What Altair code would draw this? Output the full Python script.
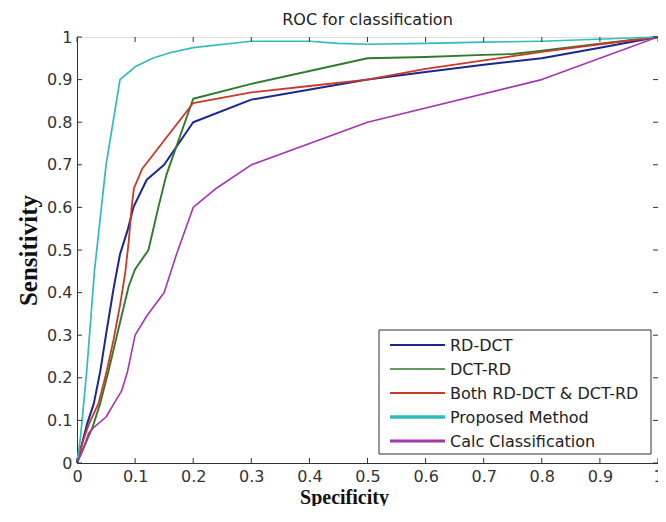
import altair as alt
import pandas as pd

series = ["RD-DCT", "DCT-RD", "Both RD-DCT & DCT-RD", "Proposed Method", "Calc Classification"]
colors = ["#1c2590", "#2f7a2f", "#c83a28", "#2fbcbc", "#a435b0"]
widths = [2.0, 1.6, 2.0, 3.5, 3.2]

rd_dct_x = [0, 0.017, 0.029, 0.04, 0.051, 0.063, 0.074, 0.087, 0.097, 0.12, 0.15, 0.2, 0.3, 0.5, 0.6, 0.7, 0.8, 0.9, 1.0]
rd_dct_y = [0, 0.09, 0.14, 0.215, 0.31, 0.41, 0.49, 0.546, 0.6, 0.665, 0.70, 0.80, 0.853, 0.90, 0.918, 0.935, 0.95, 0.975, 1.0]

dct_rd_x = [0, 0.027, 0.04, 0.054, 0.074, 0.089, 0.1, 0.123, 0.14, 0.154, 0.2, 0.3, 0.5, 0.6, 0.7, 0.75, 0.8, 0.9, 1.0]
dct_rd_y = [0, 0.085, 0.14, 0.215, 0.33, 0.415, 0.455, 0.5, 0.6, 0.677, 0.855, 0.89, 0.95, 0.953, 0.958, 0.96, 0.968, 0.984, 1.0]

both_x = [0, 0.01, 0.02, 0.037, 0.051, 0.063, 0.074, 0.083, 0.089, 0.094, 0.098, 0.112, 0.2, 0.3, 0.4, 0.5, 0.6, 0.7, 0.8, 0.9, 1.0]
both_y = [0, 0.05, 0.09, 0.14, 0.215, 0.29, 0.37, 0.446, 0.52, 0.6, 0.645, 0.69, 0.845, 0.87, 0.885, 0.90, 0.925, 0.945, 0.965, 0.983, 1.0]

proposed_x = [0, 0.006, 0.017, 0.03, 0.042, 0.05, 0.074, 0.1, 0.13, 0.16, 0.2, 0.3, 0.4, 0.45, 0.5, 0.6, 0.7, 0.8, 1.0]
proposed_y = [0, 0.06, 0.22, 0.45, 0.6, 0.7, 0.9, 0.93, 0.95, 0.963, 0.975, 0.99, 0.99, 0.985, 0.983, 0.985, 0.988, 0.99, 1.0]

calc_x = [0, 0.01, 0.02, 0.03, 0.05, 0.063, 0.077, 0.087, 0.1, 0.12, 0.15, 0.17, 0.2, 0.24, 0.3, 0.5, 0.8, 1.0]
calc_y = [0, 0.03, 0.07, 0.085, 0.108, 0.138, 0.17, 0.215, 0.3, 0.345, 0.4, 0.485, 0.6, 0.645, 0.7, 0.8, 0.9, 1.0]

x_ticks = [0, 0.1, 0.2, 0.3, 0.4, 0.5, 0.6, 0.7, 0.8, 0.9, 1.0]
y_ticks = [0, 0.1, 0.2, 0.3, 0.4, 0.5, 0.6, 0.7, 0.8, 0.9, 1.0]

xs = [rd_dct_x, dct_rd_x, both_x, proposed_x, calc_x]
ys = [rd_dct_y, dct_rd_y, both_y, proposed_y, calc_y]
rows = []
for name, xv, yv in zip(series, xs, ys):
    for i, (a, b) in enumerate(zip(xv, yv)):
        rows.append({"series": name, "spec": a, "sens": b, "i": i})
df = pd.DataFrame(rows)

W, H = 581, 426

xscale = alt.Scale(domain=[0, 1], nice=False, zero=False)
yscale = alt.Scale(domain=[0, 1], nice=False, zero=False)
cscale = alt.Scale(domain=series, range=colors)

xaxis = alt.Axis(
    title="Specificity", values=x_ticks, format=".1~f", grid=False, ticks=False,
    labelFont="DejaVu Sans", labelFontSize=16, labelColor="#333", labelPadding=5,
    domainColor="#333", labelFlush=False,
    titleFont="Liberation Serif", titleFontSize=20, titleFontWeight="bold", titleColor="#111",
    titleX=267, titleY=40, titleBaseline="alphabetic", titleAlign="center",
)
yaxis = alt.Axis(
    title="Sensitivity", values=y_ticks, format=".1~f", grid=False, ticks=False,
    labelFont="DejaVu Sans", labelFontSize=16, labelColor="#333", labelPadding=5,
    domainColor="#333", labelFlush=False,
    titleFont="Liberation Serif", titleFontSize=25, titleFontWeight="bold", titleColor="#111",
    titleX=-41, titleY=H / 2, titleAngle=270, titleBaseline="alphabetic", titleAlign="center",
)

lines = alt.Chart(df).mark_line(strokeJoin="round").encode(
    x=alt.X("spec:Q", scale=xscale, axis=xaxis),
    y=alt.Y("sens:Q", scale=yscale, axis=yaxis),
    color=alt.Color("series:N", scale=cscale, sort=series, legend=None),
    strokeWidth=alt.StrokeWidth("series:N", scale=alt.Scale(domain=series, range=widths), legend=None),
    order="i:Q",
    detail="series:N",
)

xt = pd.DataFrame({"t": x_ticks})
yt = pd.DataFrame({"t": y_ticks})

bottom_ticks = alt.Chart(xt).mark_rule(color="#333", strokeWidth=1).encode(
    x=alt.X("t:Q", scale=xscale, axis=xaxis), y=alt.value(H), y2=alt.value(H - 5))
top_ticks = alt.Chart(xt).mark_rule(color="#333", strokeWidth=1).encode(
    x=alt.X("t:Q", scale=xscale, axis=xaxis), y=alt.value(0), y2=alt.value(5))
left_ticks = alt.Chart(yt).mark_rule(color="#333", strokeWidth=1).encode(
    y=alt.Y("t:Q", scale=yscale, axis=yaxis), x=alt.value(0), x2=alt.value(5))
right_ticks = alt.Chart(yt).mark_rule(color="#333", strokeWidth=1).encode(
    y=alt.Y("t:Q", scale=yscale, axis=yaxis), x=alt.value(W), x2=alt.value(W - 5))

# legend (drawn as a framed box with line samples and labels)
LX0, LX1, LY0, LY1 = 302, 574, 293, 417
one = pd.DataFrame({"k": [0]})
legend_box = alt.Chart(one).mark_rect(fill="white", stroke="#333", strokeWidth=1).encode(
    x=alt.value(LX0), x2=alt.value(LX1), y=alt.value(LY0), y2=alt.value(LY1))

legend_layers = []
for idx, name in enumerate(series):
    ent = pd.DataFrame({"series": [name]})
    yy = 308 + 24 * idx
    legend_layers.append(
        alt.Chart(ent).mark_rule(strokeWidth=widths[idx]).encode(
            x=alt.value(313), x2=alt.value(368), y=alt.value(yy),
            color=alt.Color("series:N", scale=cscale, legend=None))
    )
    legend_layers.append(
        alt.Chart(ent).mark_text(align="left", baseline="middle", font="DejaVu Sans",
                                 fontSize=16, color="#222").encode(
            x=alt.value(373), y=alt.value(yy + 1), text="series:N")
    )

chart = alt.layer(lines, bottom_ticks, top_ticks, left_ticks, right_ticks,
                  legend_box, *legend_layers).properties(
    width=W, height=H,
    title=alt.TitleParams("ROC for classification", font="DejaVu Sans", fontSize=16,
                          fontWeight="normal", color="#222", anchor="middle",
                          offset=15, dy=27, baseline="alphabetic"),
    autosize=alt.AutoSizeParams(type="none"),
    padding={"left": 69, "top": 29, "right": 0, "bottom": 43},
).configure_view(stroke="#333", strokeWidth=1).configure(background="white")

chart.save("out.html", embed_options={"renderer": "svg", "actions": False})
